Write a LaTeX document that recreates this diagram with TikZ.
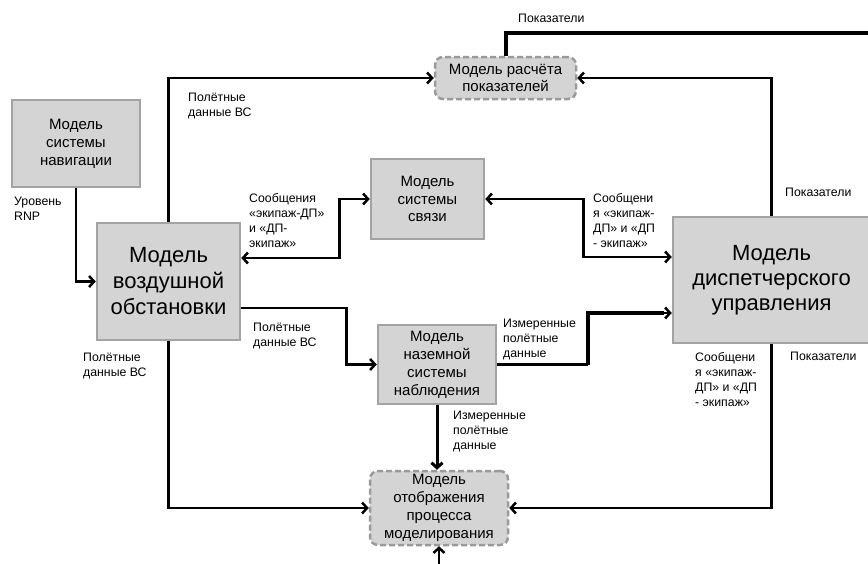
\documentclass[tikz,border=0pt]{standalone}
\usepackage{fontspec}
\setmainfont{Liberation Sans}
\usetikzlibrary{arrows.meta}
\definecolor{boxfill}{HTML}{D4D4D4}
\definecolor{boxline}{HTML}{A3A3A3}
\definecolor{dashline}{HTML}{9A9A9A}
\begin{document}
\begin{tikzpicture}[x=1pt,y=-1pt,
  >={Straight Barb[length=5pt,width=11pt]},
  box/.style={draw=boxline, fill=boxfill, line width=2.5pt, align=center, inner sep=0pt,
    font=\fontsize{15}{18}\selectfont},
  bigbox/.style={box, font=\fontsize{22}{26}\selectfont},
  dbox/.style={box, draw=dashline, dash pattern=on 6pt off 3pt, rounded corners=8pt},
  conn/.style={line width=2.5pt},
  thickconn/.style={line width=4pt},
  lbl/.style={inner sep=0pt, anchor=north west, align=left, font=\fontsize{12.3}{15}\selectfont}
]
\useasboundingbox (0,0) rectangle (868,563);

% nodes
\node[box, minimum width=128pt, minimum height=87pt] (nav) at (76,143.5) {Модель\\системы\\навигации};
\node[bigbox, minimum width=143pt, minimum height=117pt] (air) at (168.5,281.5) {Модель\\воздушной\\обстановки};
\node[dbox, minimum width=141pt, minimum height=42pt, font=\fontsize{15}{17}\selectfont] (met) at (505.5,78) {Модель расчёта\\показателей};
\node[box, minimum width=113pt, minimum height=80pt, font=\fontsize{15}{17.5}\selectfont] (comm) at (427.5,199) {Модель\\системы\\связи};
\node[bigbox, minimum width=197pt, minimum height=126pt, font=\fontsize{22}{25}\selectfont] (atc) at (771.5,280) {Модель\\диспетчерского\\управления};
\node[box, minimum width=118pt, minimum height=79pt] (surv) at (437,364.5) {Модель\\наземной\\системы\\наблюдения};
\node[dbox, minimum width=138pt, minimum height=74pt] (disp) at (439,508) {Модель\\отображения\\процесса\\моделирования};

\coordinate (topend) at (872,33);
\coordinate (botend) at (439,566);

% connectors
\draw[conn,->] (nav.south) |- (air.west);
\draw[conn,->] (air.north) |- (met.west);
\draw[conn,->] (atc.north) |- (met.east);
\draw[thickconn] (met.north) |- (topend);
\draw[conn,<->] ([yshift=23.5pt]air.east) -- ++(98,0) |- (comm.west);
\draw[conn,<->] (comm.east) -- ++(98,0) |- ([yshift=23pt]atc.west);
\draw[conn,->] ([yshift=-26.5pt]air.east) -- ++(105,0) |- (surv.west);
\draw[conn] (surv.east) -- ++(91,0) coordinate (sc);
\draw[thickconn] (sc) |- ([yshift=-33pt,xshift=-8pt]atc.west);
\draw[conn,->] ([yshift=-33pt,xshift=-10pt]atc.west) -- ([yshift=-33pt]atc.west);
\draw[line width=3pt,->] (surv.south) -- (surv.south |- disp.north);
\draw[conn,->] (air.south) |- (disp.west);
\draw[conn,->] (atc.south) |- (disp.east);
\draw[conn,->] (botend) -- (disp.south);

% labels
\node[lbl] (l1) at (14,197) {Уровень\\RNP};
\node[lbl] (l2) at (188,93) {Полётные\\данные ВС};
\node[lbl] (l3) at (518,14) {Показатели};
\node[lbl] (l4) at (785,188) {Показатели};
\node[lbl] (l5) at (249,193) {Сообщения\\«экипаж-ДП»\\и «ДП-\\экипаж»};
\node[lbl] (l6) at (593,193) {Сообщени\\я «экипаж-\\ДП» и «ДП\\- экипаж»};
\node[lbl] (l7) at (253,323) {Полётные\\данные ВС};
\node[lbl] (l8) at (503,319) {Измеренные\\полётные\\данные};
\node[lbl] (l9) at (453,411) {Измеренные\\полётные\\данные};
\node[lbl] (l10) at (83,353) {Полётные\\данные ВС};
\node[lbl] (l11) at (695,352) {Сообщени\\я «экипаж-\\ДП» и «ДП\\- экипаж»};
\node[lbl] (l12) at (790,352) {Показатели};
\end{tikzpicture}
\end{document}
